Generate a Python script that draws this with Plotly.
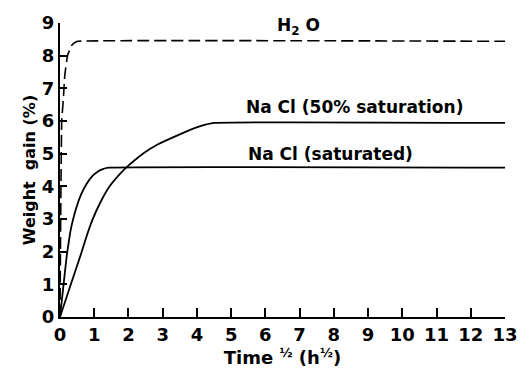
import plotly.graph_objects as go

# Data (x = Time^1/2, y = weight gain %)
h2o_t = [0, 0.02, 0.05, 0.10, 0.14, 0.22, 0.33, 0.43, 0.52, 13]
h2o_y = [0, 3.0, 6.0, 6.7, 7.4, 8.0, 8.3, 8.4, 8.44, 8.44]

sat_t = [0, 0.1, 0.2, 0.3, 0.38, 0.5, 0.62, 0.78, 0.95, 1.1, 1.23, 1.42, 13]
sat_y = [0, 0.95, 1.9, 2.6, 2.98, 3.42, 3.76, 4.08, 4.32, 4.45, 4.52, 4.57, 4.57]

half_t = [0, 0.3, 0.62, 0.76, 0.95, 1.2, 1.45, 1.7, 1.94, 2.18, 2.42, 2.85, 3.3, 3.7, 4.1, 4.5, 13]
half_y = [0, 0.95, 1.95, 2.42, 2.98, 3.55, 4.0, 4.32, 4.58, 4.8, 5.0, 5.28, 5.5, 5.68, 5.84, 5.94, 5.94]

x_ticks = list(range(0, 14))
y_ticks = list(range(0, 10))

labels = ["H<sub>2</sub> O", "Na Cl (50% saturation)", "Na Cl (saturated)"]
label_x = [6.97, 8.6, 7.9]
label_y = [8.88, 6.42, 4.98]

FONT = "DejaVu Sans, Liberation Sans, Arial, sans-serif"

fig = go.Figure()
fig.add_trace(go.Scatter(x=h2o_t, y=h2o_y, mode="lines",
                         line=dict(color="black", width=1.6, dash="12px,5px", shape="spline", smoothing=0.3)))
fig.add_trace(go.Scatter(x=sat_t, y=sat_y, mode="lines",
                         line=dict(color="black", width=1.8, shape="spline", smoothing=0.3)))
fig.add_trace(go.Scatter(x=half_t, y=half_y, mode="lines",
                         line=dict(color="black", width=1.8, shape="spline", smoothing=0.3)))

for txt, ax_, ay_ in zip(labels, label_x, label_y):
    fig.add_annotation(x=ax_, y=ay_, xref="x", yref="y", text=txt, showarrow=False,
                       font=dict(family=FONT, size=17, color="black", weight="bold"))

fig.update_layout(
    width=530, height=369,
    margin=dict(l=60, r=13, t=22, b=51),
    paper_bgcolor="white", plot_bgcolor="white",
    showlegend=False,
    font=dict(family=FONT, color="black"),
)
fig.update_xaxes(range=[0, 13], tickvals=x_ticks, ticktext=[str(v) for v in x_ticks],
                 showgrid=False, zeroline=False, showline=True, linecolor="black", linewidth=2,
                 ticks="inside", ticklen=9, tickwidth=1.5, tickcolor="black",
                 tickfont=dict(family=FONT, size=18, color="black", weight="bold"),
                 title=dict(text="Time <sup>½</sup> (h<sup>½</sup>)", standoff=0,
                            font=dict(family=FONT, size=18, color="black", weight="bold")))
fig.update_yaxes(range=[0, 9], tickvals=y_ticks, ticktext=[str(v) for v in y_ticks],
                 showgrid=False, zeroline=False, showline=True, linecolor="black", linewidth=2,
                 ticks="inside", ticklen=7, tickwidth=1.5, tickcolor="black",
                 tickfont=dict(family=FONT, size=18, color="black", weight="bold"),
                 title=dict(text="Weight  gain (%)", standoff=2,
                            font=dict(family=FONT, size=16, color="black", weight="bold")))

fig.write_html("out.html")
